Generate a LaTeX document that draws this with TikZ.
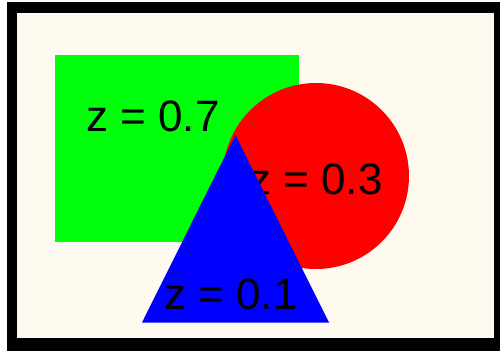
\documentclass[tikz,border=0pt]{standalone}
\usepackage{fontspec}
\setmainfont{Liberation Sans}
\definecolor{cream}{HTML}{FFFAF0}
\definecolor{fgreen}{HTML}{00FF0A}
\begin{document}
\begin{tikzpicture}[x=1pt,y=-1pt,
  lbl/.style={anchor=base,inner sep=0pt,font=\fontsize{44}{50}\selectfont,text=black}]
\useasboundingbox (0,0) rectangle (500,351);
\fill[white] (0,0) rectangle (500,351);
\fill[black] (7,2) rectangle (500,351);
\fill[cream] (17,13) rectangle (494,338);
\fill[fgreen] (55,55) rectangle (299,242);
\node[lbl] (t7) at (153,131) {z = 0.7};
\fill[red] (316,176) circle[radius=93];
\node[lbl] (t3) at (316,194) {z = 0.3};
\fill[blue] (235.5,135) -- (142,322.5) -- (329,322.5) -- cycle;
\node[lbl] (t1) at (231,309) {z = 0.1};
\end{tikzpicture}
\end{document}
